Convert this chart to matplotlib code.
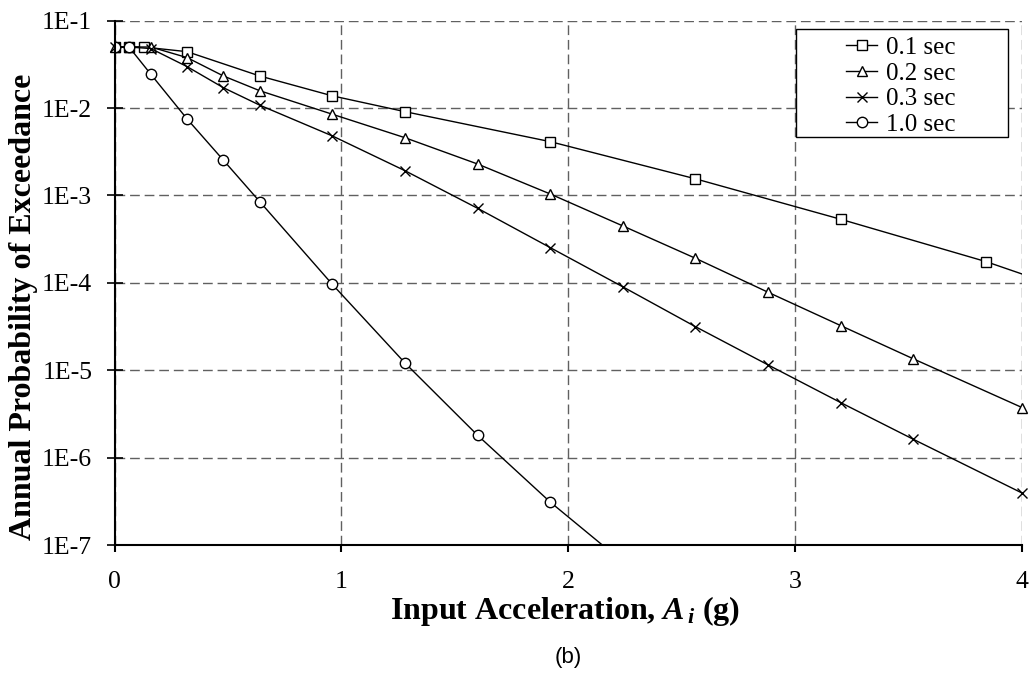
import numpy as np
import matplotlib
matplotlib.use("Agg")
import matplotlib.pyplot as plt
from matplotlib.patches import Rectangle
from matplotlib.ticker import FixedLocator, FuncFormatter, NullLocator

plt.rcParams['font.family'] = ['Liberation Serif', 'DejaVu Serif']
plt.rcParams['mathtext.fontset'] = 'custom'
plt.rcParams['mathtext.it'] = 'Liberation Serif:italic:bold'
plt.rcParams['mathtext.bf'] = 'Liberation Serif:bold'
plt.rcParams['mathtext.rm'] = 'Liberation Serif:bold'

# input acceleration (g) and annual probability of exceedance
acc_01 = [0, 0.064, 0.128, 0.32, 0.64, 0.96, 1.28, 1.92, 2.56, 3.2, 3.84, 4.48]
prob_01 = [0.05, 0.05, 0.05, 0.0442, 0.0233, 0.0138, 0.0091, 0.00413, 0.00155,
           0.000534, 0.000175, 4.7e-5]

acc_02 = [0, 0.064, 0.16, 0.32, 0.48, 0.64, 0.96, 1.28, 1.6, 1.92, 2.24, 2.56,
          2.88, 3.2, 3.52, 4.0]
prob_02 = [0.05, 0.05, 0.05, 0.0378, 0.0233, 0.0158, 0.0085, 0.00458, 0.00229,
           0.00104, 0.000448, 0.000191, 7.8e-5, 3.24e-5, 1.35e-5, 3.73e-6]

acc_03 = [0, 0.064, 0.16, 0.32, 0.48, 0.64, 0.96, 1.28, 1.6, 1.92, 2.24, 2.56,
          2.88, 3.2, 3.52, 4.0]
prob_03 = [0.05, 0.05, 0.048, 0.0298, 0.0171, 0.0108, 0.0048, 0.00192, 0.000713,
           0.000253, 9.0e-5, 3.15e-5, 1.15e-5, 4.26e-6, 1.62e-6, 3.92e-7]

acc_10 = [0, 0.064, 0.16, 0.32, 0.48, 0.64, 0.96, 1.28, 1.6, 1.92, 2.24]
prob_10 = [0.05, 0.05, 0.0244, 0.0075, 0.00253, 0.00085, 9.6e-5, 1.21e-5,
           1.8e-6, 3.1e-7, 6.4e-8]

labels = ['0.1 sec', '0.2 sec', '0.3 sec', '1.0 sec']
x_ticks = [0, 1, 2, 3, 4]
y_ticks = [1e-7, 1e-6, 1e-5, 1e-4, 1e-3, 1e-2, 1e-1]

W, H = 1031, 675
fig = plt.figure(figsize=(W / 100, H / 100), dpi=100)
x0, x1, ytop, ybot = 114.5, 1022.3, 20.7, 545
ax = fig.add_axes([x0 / W, 1 - ybot / H, (x1 - x0) / W, (ybot - ytop) / H])

style = dict(color='black', lw=1.0, markersize=7.5, markeredgewidth=1.0,
             markerfacecolor='white', markeredgecolor='black')
ax.plot(acc_01, prob_01, marker='s', label=labels[0], **style)
ax.plot(acc_02, prob_02, marker='^', label=labels[1], clip_on=False, **style)
ax.plot(acc_03, prob_03, marker='x', label=labels[2], clip_on=False, **style)
ax.plot(acc_10, prob_10, marker='o', label=labels[3], **style)

ax.set_yscale('log')
ax.set_xlim(0, 4)
ax.set_ylim(1e-7, 1e-1)
ax.xaxis.set_major_locator(FixedLocator(x_ticks))
ax.yaxis.set_major_locator(FixedLocator(y_ticks))
ax.yaxis.set_minor_locator(NullLocator())
ax.yaxis.set_major_formatter(FuncFormatter(lambda v, p: '1E%d' % round(np.log10(v))))
ax.xaxis.set_major_formatter(FuncFormatter(lambda v, p: '%d' % v))

ax.grid(True, which='major', color='#606060', lw=1.0, ls=(0, (7, 3.5)))
for s in ['top', 'right']:
    ax.spines[s].set_visible(False)
for s in ['left', 'bottom']:
    ax.spines[s].set_linewidth(1.5)

ax.tick_params(axis='y', direction='inout', length=12, width=1.2, pad=10,
               labelsize=18.5)
ax.tick_params(axis='x', direction='out', length=5, width=1.5, pad=14,
               labelsize=18.5)

fig.text(24 / W, 1 - 307 / H, 'Annual Probability of Exceedance', rotation=90,
         ha='center', va='center', fontsize=23, fontweight='bold')
fig.text(565 / W, 1 - 611 / H, r'Input Acceleration, $A_{\,i}$ (g)',
         ha='center', va='center', fontsize=23, fontweight='bold')
fig.text(568 / W, 1 - 657 / H, '(b)', ha='center', va='center', fontsize=16,
         family='Liberation Sans')

leg = ax.legend(loc='upper left', bbox_to_anchor=(0.806, 0.970), frameon=False,
                fontsize=18, handlelength=1.25, handletextpad=0.35,
                labelspacing=0.13, borderpad=0, borderaxespad=0)
ax.add_patch(Rectangle((0.7507, 0.778), 0.2335, 0.206, transform=ax.transAxes,
                       facecolor='white', edgecolor='black', lw=1.0, zorder=4))
leg.set_zorder(5)

fig.savefig('out.png', dpi=100)
